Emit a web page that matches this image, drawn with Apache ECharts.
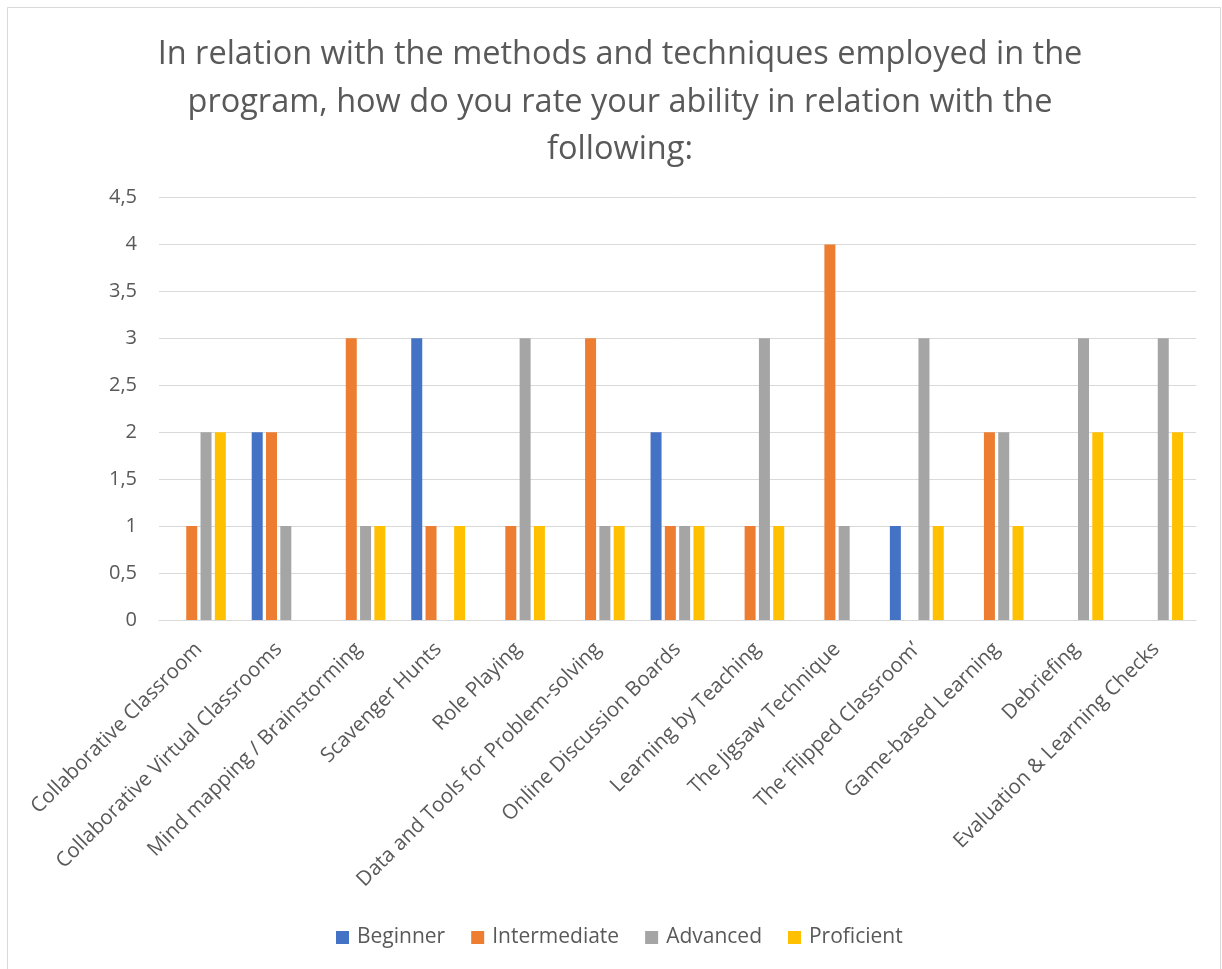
<!DOCTYPE html>
<html>
<head>
<meta charset="utf-8">
<script src="https://cdn.jsdelivr.net/npm/echarts@6/dist/echarts.min.js"></script>
<style>
html,body{margin:0;padding:0;background:#fff;}
#chart{width:1222px;height:969px;}
</style>
</head>
<body>
<div id="chart"></div>
<script>
const titleText = "In relation with the methods and techniques employed in the\nprogram, how do you rate your ability in relation with the\nfollowing:";
const categories = [
  "Collaborative Classroom",
  "Collaborative Virtual Classrooms",
  "Mind mapping / Brainstorming",
  "Scavenger Hunts",
  "Role Playing",
  "Data and Tools for Problem-solving",
  "Online Discussion Boards",
  "Learning by Teaching",
  "The Jigsaw Technique",
  "The \u2018Flipped Classroom\u2019",
  "Game-based Learning",
  "Debriefing",
  "Evaluation & Learning Checks"
];
const seriesNames = ["Beginner", "Intermediate", "Advanced", "Proficient"];
const beginner     = [0, 2, 0, 3, 0, 0, 2, 0, 0, 1, 0, 0, 0];
const intermediate = [1, 2, 3, 1, 1, 3, 1, 1, 4, 0, 2, 0, 0];
const advanced     = [2, 1, 1, 0, 3, 1, 1, 3, 1, 3, 2, 3, 3];
const proficient   = [2, 0, 1, 1, 1, 1, 1, 1, 0, 1, 1, 2, 2];
const colors = ["#4472C4", "#ED7D31", "#A5A5A5", "#FFC000"];

const chart = echarts.init(document.getElementById('chart'));
const font = "'Open Sans', 'Noto Sans', sans-serif";
const dataSets = [beginner, intermediate, advanced, proficient];
chart.setOption({
  animation: false,
  color: colors,
  textStyle: {fontFamily: font},
  graphic: [{
    type: 'rect',
    shape: {x: 7.5, y: 7.5, width: 1213, height: 970},
    style: {fill: 'none', stroke: '#d9d9d9', lineWidth: 1},
    silent: true
  }],
  title: {
    text: titleText,
    left: 615,
    top: 26,
    textAlign: 'center',
    textStyle: {
      fontFamily: font,
      fontSize: 32.5,
      fontWeight: 'normal',
      color: '#595959',
      lineHeight: 47.5
    }
  },
  legend: {
    data: seriesNames,
    bottom: 16,
    left: 331,
    itemWidth: 13,
    itemHeight: 13,
    itemGap: 26,
    icon: 'rect',
    textStyle: {fontFamily: font, fontSize: 21, color: '#595959', padding: [0, 0, 0, 3]}
  },
  grid: {left: 159, right: 26, top: 197.5, bottom: 349, containLabel: false},
  xAxis: {
    type: 'category',
    data: categories,
    axisLine: {show: true, lineStyle: {color: '#d9d9d9', width: 1}},
    axisTick: {show: false},
    axisLabel: {
      interval: 0,
      rotate: 45,
      fontFamily: font,
      fontSize: 20.5,
      color: '#595959',
      margin: 26
    }
  },
  yAxis: {
    type: 'value',
    min: 0,
    max: 4.5,
    interval: 0.5,
    axisLine: {show: false},
    axisTick: {show: false},
    splitLine: {lineStyle: {color: '#d9d9d9', width: 1}},
    axisLabel: {
      fontFamily: font,
      fontSize: 20,
      color: '#595959',
      margin: 22,
      formatter: v => String(v).replace('.', ',')
    }
  },
  series: seriesNames.map((name, i) => ({
    name: name,
    type: 'bar',
    data: dataSets[i],
    barWidth: 11,
    barGap: '30%',
    itemStyle: {color: colors[i]}
  }))
});
</script>
</body>
</html>
